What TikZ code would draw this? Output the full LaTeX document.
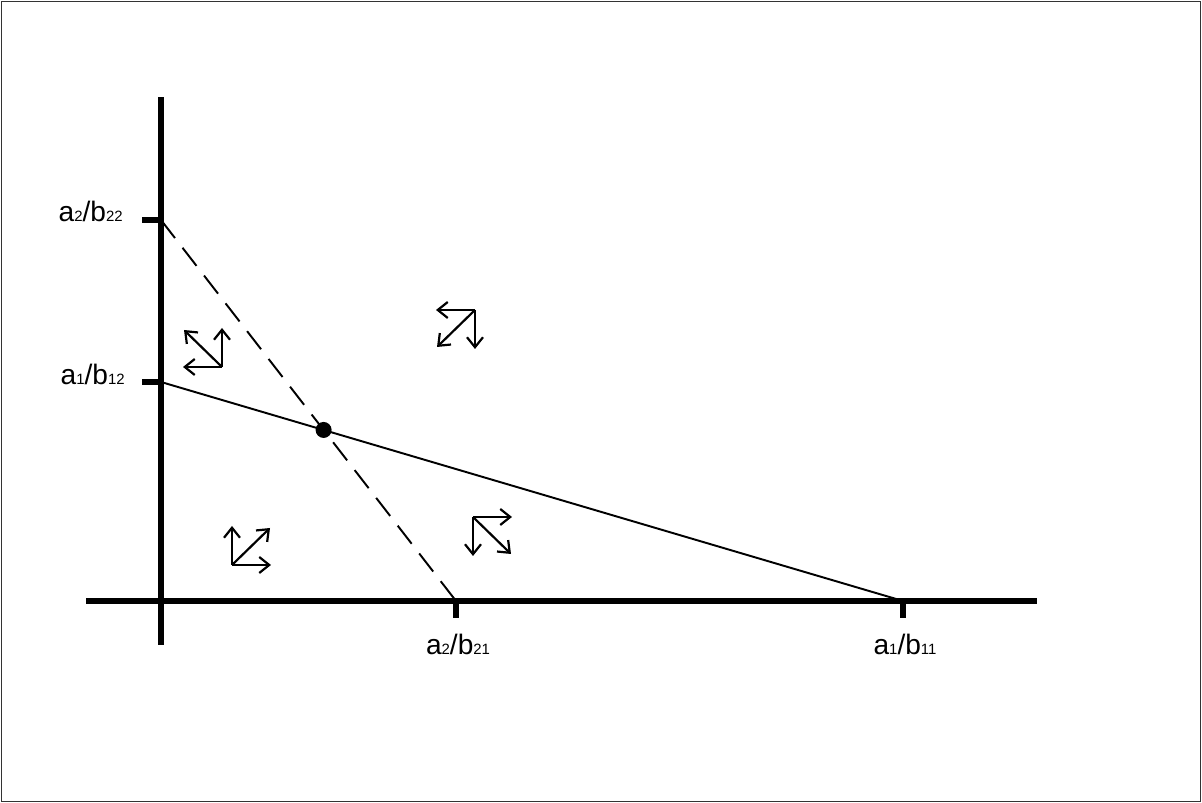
\documentclass[tikz,border=0pt]{standalone}
\usepackage{fontspec}
\setmainfont{Liberation Sans}
\usepackage{tikz}
\usetikzlibrary{arrows.meta}
\newcommand{\lowdig}[1]{{\fontsize{8.5}{9}\selectfont #1}}

\begin{document}
\begin{tikzpicture}[>={Straight Barb[length=2mm,width=3.2mm]},
  axis/.style={line width=3.1pt},
  lbl/.style={font=\fontsize{16}{18}\selectfont, inner sep=0pt},
  dir/.style={->, line width=1.25pt}]
\useasboundingbox (0,0) rectangle (24.04,16.06);
\draw[black!80, line width=0.6pt] (0.03,0.03) rectangle (24.01,16.03);
\coordinate (O) at (3.22,4.04);
\coordinate (ytop) at (3.22,14.12);
\coordinate (ybot) at (3.22,3.16);
\coordinate (xl) at (1.72,4.04);
\coordinate (xr) at (20.74,4.04);
\coordinate (y2) at (3.22,11.66);
\coordinate (y1) at (3.22,8.42);
\coordinate (x2) at (9.12,4.04);
\coordinate (x1) at (18.06,4.04);
\draw[dash pattern=on 13pt off 7pt, line width=1.1pt] (y2) -- (x2);
\draw[line width=1.1pt] (y1) -- (x1);
\draw[axis] (ybot) -- (ytop);
\draw[axis] (xl) -- (xr);
\draw[axis] (y2) -- ++(-0.38,0);
\draw[axis] (y1) -- ++(-0.38,0);
\draw[axis] (x2) -- ++(0,-0.34);
\draw[axis] (x1) -- ++(0,-0.34);
\coordinate (eq) at (intersection of y2--x2 and y1--x1);
\fill (eq) circle (0.16);
\node[lbl, anchor=base east] (ly2) at (2.46,11.62) {a\lowdig{2}/b\lowdig{22}};
\node[lbl, anchor=base east] (ly1) at (2.50,8.36) {a\lowdig{1}/b\lowdig{12}};
\node[lbl, anchor=base] (lx2) at (9.16,2.96) {a\lowdig{2}/b\lowdig{21}};
\node[lbl, anchor=base] (lx1) at (18.10,2.96) {a\lowdig{1}/b\lowdig{11}};
\foreach \ox/\oy/\sx/\sy in {4.44/8.72/-1/1, 9.50/9.86/-1/-1, 4.64/4.76/1/1, 9.46/5.72/1/-1}{
  \draw[dir] (\ox,\oy) -- ++(\sx*0.78,0);
  \draw[dir] (\ox,\oy) -- ++(0,\sy*0.78);
  \draw[dir] (\ox,\oy) -- ++(\sx*0.76,\sy*0.74);
}
\end{tikzpicture}
\end{document}
